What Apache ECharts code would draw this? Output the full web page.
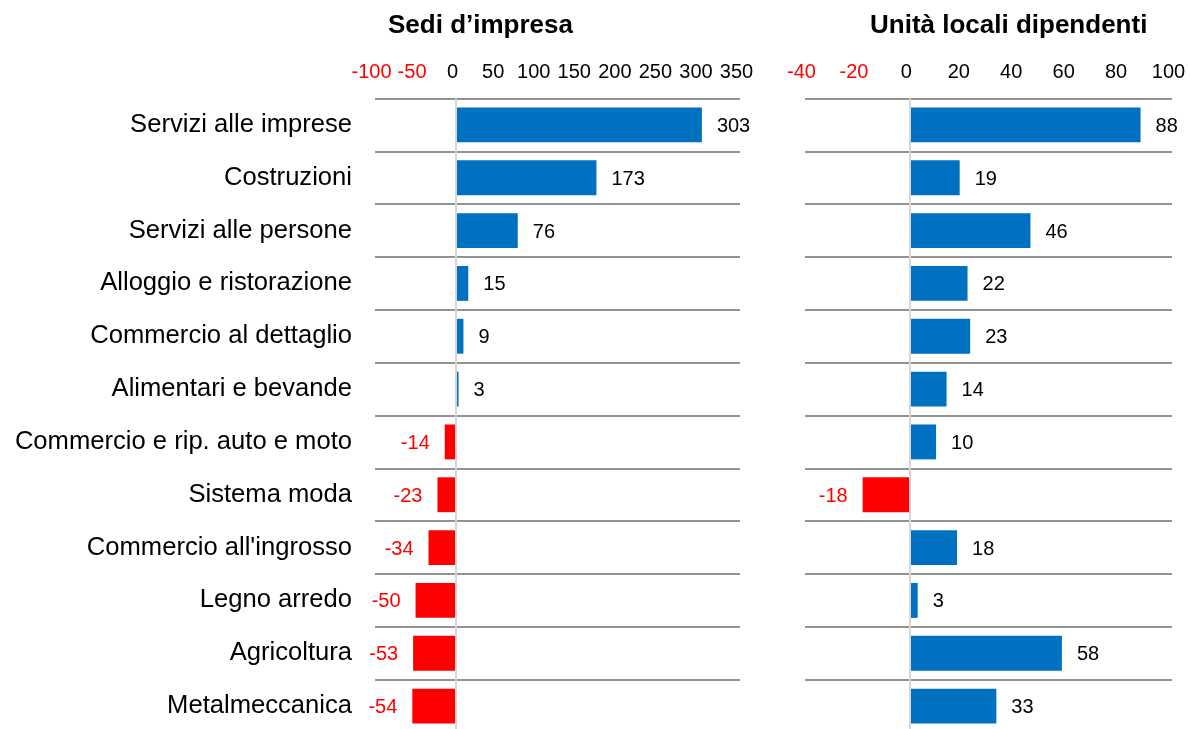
<!DOCTYPE html>
<html><head><meta charset="utf-8">
<script src="https://cdn.jsdelivr.net/npm/echarts@6/dist/echarts.min.js"></script>
<style>html,body{margin:0;padding:0;background:#fff}#c{width:1190px;height:729px}</style>
</head><body><div id="c"></div>
<script>
const categories = ["Servizi alle imprese","Costruzioni","Servizi alle persone","Alloggio e ristorazione","Commercio al dettaglio","Alimentari e bevande","Commercio e rip. auto e moto","Sistema moda","Commercio all'ingrosso","Legno arredo","Agricoltura","Metalmeccanica"];
const sediValues = [303,173,76,15,9,3,-14,-23,-34,-50,-53,-54];
const unitaValues = [88,19,46,22,23,14,10,-18,18,3,58,33];
const titles = ["Sedi d\u2019impresa","Unit\u00e0 locali dipendenti"];
const leftTicks = {min:-100,max:350,interval:50};
const rightTicks = {min:-40,max:100,interval:20};

const FONT = "Liberation Sans, Arial, sans-serif";
const BLUE = '#0070C0', RED = '#FF0000';

function mkData(arr){
  return arr.map(v => ({
    value: v,
    itemStyle: {color: v < 0 ? RED : BLUE},
    label: {position: v < 0 ? 'left' : 'right', color: v < 0 ? RED : '#000'}
  }));
}
function xAx(idx, t){
  return {
    gridIndex: idx, type:'value', position:'top', min:t.min, max:t.max, interval:t.interval,
    axisLine:{show:false}, axisTick:{show:false}, splitLine:{show:false},
    axisLabel:{margin:16, fontSize:20, fontFamily:FONT, padding:[0,7,0,0],
      color: v => (Number(v) < 0 ? RED : '#000')}
  };
}
function yAx(idx, showLabels){
  return {
    gridIndex: idx, type:'category', data: categories, inverse:true,
    axisLine:{show:false}, axisTick:{show:false},
    splitLine:{show:true, lineStyle:{color:'#929292', width:2}},
    axisLabel:{show:showLabels, margin:23, fontSize:25.6, color:'#000', fontFamily:FONT}
  };
}
function ser(idx, arr){
  return {
    type:'bar', xAxisIndex:idx, yAxisIndex:idx, data: mkData(arr),
    barCategoryGap:'34%',
    label:{show:true, distance:15, fontSize:20, fontFamily:FONT, offset:[0,1.5]},
    markLine:{silent:true, symbol:'none', label:{show:false},
      lineStyle:{color:'#d6d6d6', width:2, type:'solid'}, data:[{xAxis:0}]}
  };
}
const chart = echarts.init(document.getElementById('c'));
chart.setOption({
  animation:false,
  title:[
    {text:titles[0], left:388, top:13, padding:0, textStyle:{fontSize:26, fontWeight:'bold', color:'#000', fontFamily:FONT}},
    {text:titles[1], left:870, top:13, padding:0, textStyle:{fontSize:26, fontWeight:'bold', color:'#000', fontFamily:FONT}}
  ],
  grid:[
    {left:375, width:365, top:98.5, height:634, containLabel:false, outerBoundsMode:'none'},
    {left:805, width:367, top:98.5, height:634, containLabel:false, outerBoundsMode:'none'}
  ],
  xAxis:[xAx(0,leftTicks), xAx(1,rightTicks)],
  yAxis:[yAx(0,true), yAx(1,false)],
  series:[ser(0,sediValues), ser(1,unitaValues)]
});
</script></body></html>
